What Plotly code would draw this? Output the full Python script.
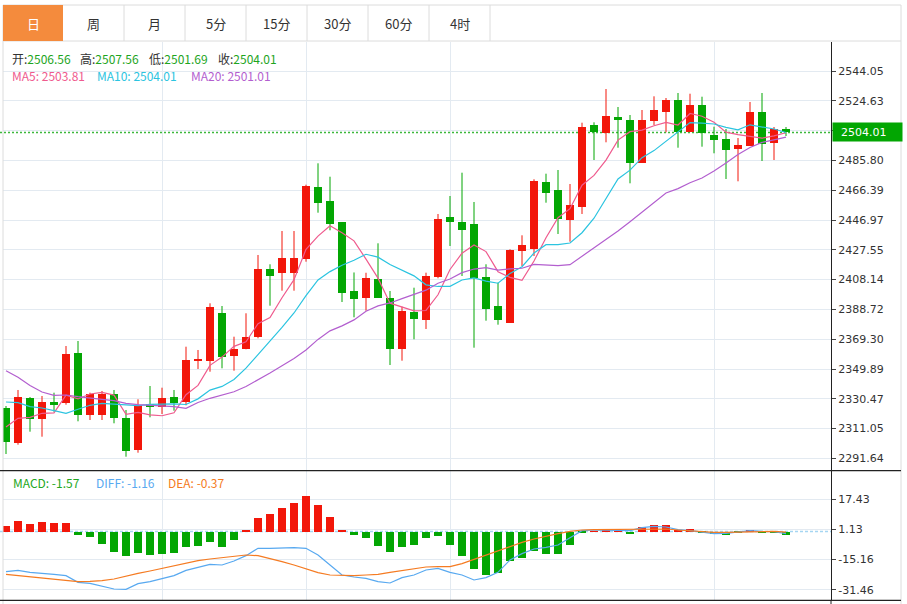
import plotly.graph_objects as go

W, H = 907, 604

tabs = ["日", "周", "月", "5分", "15分", "30分", "60分", "4时"]

opens = [2324.30, 2301.89, 2331.02, 2317.53, 2328.60, 2327.95, 2360.14, 2320.13, 2320.13, 2333.62,
         2317.98, 2297.14, 2326.91, 2325.35, 2331.67, 2328.60, 2355.32, 2355.32, 2386.59, 2358.57,
         2362.74, 2370.56, 2415.06, 2412.45, 2412.45, 2421.57, 2468.67, 2459.16, 2445.68, 2400.73,
         2395.97, 2408.54, 2396.17, 2362.74, 2387.24, 2382.03, 2409.85, 2448.93, 2445.87, 2444.37,
         2410.04, 2390.76, 2380.07, 2426.59, 2428.09, 2471.53, 2466.52, 2446.98, 2455.65, 2508.86,
         2503.85, 2514.07, 2512.12, 2484.30, 2511.66, 2517.53, 2525.35, 2504.50, 2521.70, 2502.35,
         2499.74, 2493.03, 2495.18, 2517.33, 2496.94, 2506.56]
highs = [2325.80, 2336.23, 2331.67, 2332.32, 2334.47, 2364.89, 2368.15, 2334.47, 2335.58, 2336.23,
         2323.20, 2330.17, 2338.83, 2337.73, 2336.23, 2364.44, 2362.29, 2392.71, 2390.95, 2370.95,
         2386.20, 2424.18, 2418.12, 2439.81, 2439.81, 2469.97, 2483.91, 2475.18, 2445.68, 2412.80,
         2412.61, 2431.80, 2400.73, 2390.50, 2402.88, 2412.65, 2450.89, 2462.61, 2477.79, 2458.71,
         2418.12, 2406.13, 2427.89, 2437.01, 2473.49, 2477.14, 2479.55, 2470.43, 2510.36, 2510.62,
         2532.32, 2520.59, 2515.38, 2518.64, 2527.56, 2526.45, 2529.71, 2529.25, 2527.30, 2507.76,
         2506.26, 2500.39, 2523.85, 2529.71, 2507.56, 2507.56]
lows = [2294.53, 2300.59, 2309.06, 2305.80, 2322.09, 2326.65, 2315.83, 2316.68, 2316.68, 2314.53,
        2292.77, 2295.38, 2318.44, 2320.59, 2322.74, 2326.26, 2349.91, 2348.15, 2350.36, 2348.80,
        2362.74, 2369.91, 2391.15, 2400.92, 2400.92, 2419.81, 2451.74, 2440.27, 2393.56, 2383.59,
        2387.89, 2396.36, 2352.51, 2355.32, 2369.26, 2375.97, 2409.00, 2430.04, 2410.50, 2363.78,
        2381.37, 2378.77, 2380.07, 2417.01, 2423.53, 2458.25, 2437.86, 2432.84, 2450.89, 2486.06,
        2497.59, 2494.07, 2470.88, 2484.30, 2508.86, 2504.11, 2494.07, 2504.50, 2494.73, 2490.43,
        2473.68, 2472.19, 2495.18, 2485.41, 2486.06, 2501.69]
closes = [2302.15, 2331.86, 2317.53, 2328.60, 2326.65, 2359.49, 2319.74, 2333.62, 2333.62, 2318.18,
          2296.68, 2326.26, 2325.15, 2331.02, 2327.95, 2355.58, 2356.42, 2390.50, 2357.92, 2362.94,
          2370.56, 2415.06, 2410.69, 2422.22, 2422.22, 2468.93, 2458.25, 2444.57, 2399.62, 2395.51,
          2409.39, 2396.36, 2363.13, 2387.69, 2382.48, 2410.50, 2447.44, 2445.68, 2440.66, 2409.39,
          2388.80, 2382.03, 2427.24, 2430.89, 2472.38, 2464.37, 2447.44, 2456.75, 2507.36, 2504.11,
          2514.53, 2512.32, 2484.30, 2512.32, 2518.44, 2525.15, 2504.11, 2521.70, 2503.46, 2499.09,
          2492.77, 2495.83, 2517.14, 2496.68, 2506.45, 2504.01]

ma5 = [2312.12, 2317.79, 2318.44, 2321.05, 2321.36, 2332.83, 2330.40, 2333.62, 2334.62, 2332.93,
       2320.37, 2321.67, 2319.98, 2319.46, 2321.41, 2333.19, 2339.22, 2352.29, 2357.67, 2364.67,
       2367.67, 2379.39, 2383.43, 2396.30, 2408.15, 2427.83, 2436.47, 2443.24, 2438.72, 2433.38,
       2421.47, 2409.09, 2392.80, 2390.42, 2387.81, 2388.03, 2398.25, 2414.76, 2425.35, 2430.73,
       2426.39, 2413.31, 2409.63, 2407.67, 2420.27, 2435.38, 2448.47, 2454.37, 2469.66, 2476.00,
       2486.04, 2499.01, 2504.52, 2505.51, 2508.38, 2510.50, 2508.86, 2516.34, 2514.57, 2510.70,
       2504.22, 2502.57, 2501.66, 2500.30, 2501.78, 2503.81]
ma10 = [2328.41, 2327.95, 2325.35, 2324.50, 2322.74, 2321.05, 2323.65, 2326.26, 2327.56, 2327.14,
        2326.60, 2326.04, 2326.80, 2327.04, 2327.17, 2326.78, 2330.45, 2336.14, 2338.57, 2343.04,
        2350.43, 2359.31, 2367.86, 2376.98, 2386.41, 2397.75, 2407.93, 2413.34, 2417.51, 2420.77,
        2424.65, 2422.78, 2418.02, 2414.57, 2410.60, 2404.75, 2403.67, 2403.78, 2407.89, 2409.27,
        2407.21, 2405.78, 2412.19, 2416.51, 2425.50, 2430.89, 2430.89, 2432.00, 2438.67, 2448.14,
        2460.71, 2473.74, 2479.44, 2487.59, 2492.19, 2498.27, 2503.94, 2510.43, 2510.04, 2509.54,
        2507.36, 2505.72, 2509.00, 2507.44, 2506.24, 2504.01]
ma20 = [2348.80, 2344.50, 2339.16, 2334.92, 2332.78, 2332.97, 2331.86, 2331.21, 2330.17, 2329.25,
        2327.56, 2326.65, 2326.26, 2325.93, 2325.35, 2324.30, 2328.08, 2330.82, 2332.97, 2335.09,
        2338.51, 2342.68, 2347.33, 2352.01, 2356.79, 2362.26, 2369.19, 2374.74, 2378.03, 2381.90,
        2387.54, 2391.04, 2392.94, 2395.78, 2398.50, 2401.25, 2405.80, 2408.56, 2412.69, 2415.02,
        2415.93, 2414.28, 2415.10, 2415.54, 2418.05, 2417.82, 2417.28, 2417.89, 2423.27, 2428.71,
        2433.96, 2439.76, 2445.82, 2452.05, 2458.85, 2464.58, 2467.41, 2471.21, 2474.35, 2478.84,
        2484.04, 2489.72, 2494.22, 2497.51, 2499.21, 2501.01]

macd_hist = [2.97, 5.67, 4.21, 5.13, 4.75, 4.59, -1.51, -2.81, -6.58, -10.90,
             -13.20, -11.40, -12.30, -12.10, -11.40, -8.20, -7.45, -5.50, -7.99, -4.59,
             0.65, 7.45, 9.44, 12.80, 15.50, 19.20, 14.30, 7.83, 0.65, -1.51,
             -3.35, -7.66, -11.10, -8.20, -7.29, -3.51, -2.05, -6.90, -12.80, -20.20,
             -23.50, -22.00, -15.90, -14.10, -10.50, -12.00, -11.80, -6.90, -0.30, 0.20,
             0.80, 0.10, -1.20, 2.80, 3.50, 3.50, 1.20, 1.70, -0.50, -1.30,
             -1.90, -0.40, 0.65, -0.90, -0.30, -1.57]
diff_line = [-21.68, -20.96, -22.04, -22.40, -23.12, -23.83, -27.43, -27.97, -29.59, -31.03,
             -31.21, -28.15, -27.07, -25.63, -23.83, -20.96, -19.52, -17.72, -18.08, -15.92,
             -13.04, -9.08, -9.08, -8.72, -8.72, -9.08, -12.68, -18.08, -23.48, -24.55,
             -25.27, -27.07, -27.79, -24.91, -23.48, -20.78, -19.88, -22.04, -23.48, -26.17,
             -24.91, -22.04, -15.38, -11.96, -9.44, -8.54, -7.29, -3.33, 0.45, 0.81,
             0.81, 0.63, 0.45, 2.07, 2.79, 2.43, 0.99, 0.45, -0.45, -1.17,
             -0.99, -0.09, 0.45, 0.09, -0.09, -1.16]
dea_line = [-23.12, -23.83, -24.55, -25.27, -26.00, -26.71, -27.07, -26.89, -26.53, -25.63,
            -24.02, -22.58, -21.32, -19.88, -18.44, -16.82, -15.74, -14.84, -14.12, -13.40,
            -12.68, -13.04, -14.48, -16.28, -18.08, -20.24, -22.22, -23.48, -23.83, -23.83,
            -23.48, -23.12, -22.04, -20.96, -20.06, -19.16, -18.98, -18.98, -17.36, -15.02,
            -12.68, -10.16, -7.83, -5.85, -4.05, -2.43, -1.17, 0.09, 0.81, 0.99,
            0.99, 0.99, 0.99, 0.99, 1.35, 1.35, 0.81, 0.27, -0.09, -0.45,
            -0.45, -0.27, 0.09, 0.09, 0.09, -0.37]

price_ticks = [2291.64, 2311.05, 2330.47, 2349.89, 2369.30, 2388.72, 2408.14,
               2427.55, 2446.97, 2466.39, 2485.80, 2505.22, 2524.63, 2544.05]
price_tick_text = ["2291.64", "2311.05", "2330.47", "2349.89", "2369.30", "2388.72", "2408.14",
                   "2427.55", "2446.97", "2466.39", "2485.80", "", "2524.63", "2544.05"]
macd_ticks = [17.43, 1.13, -15.16, -31.46]
macd_tick_text = ["17.43", "1.13", "-15.16", "-31.46"]
month_marks = [13, 25, 37, 59]

UP = "#f2170a"
DOWN = "#03a603"
GRID = "#e3eaf1"
C_MA5 = "#ef5b8e"
C_MA10 = "#2bc4e0"
C_MA20 = "#b35fcf"
C_DIFF = "#58a9f0"
C_DEA = "#f57b22"
CJK = "Noto Sans CJK SC"
AX = "DejaVu Sans"


def X(px):
    return px / W


def Y(py):
    return 1 - py / H


idx = list(range(len(closes)))
fig = go.Figure()

# wicks
for color, up in ((UP, True), (DOWN, False)):
    xs, ys = [], []
    for i, (o, h, l, c) in enumerate(zip(opens, highs, lows, closes)):
        if (c >= o) == up:
            xs += [i, i, None]
            ys += [l, h, None]
    fig.add_trace(go.Scatter(x=xs, y=ys, mode="lines", line=dict(color=color, width=1),
                             hoverinfo="skip", showlegend=False))

# bodies
body_base = [min(o, c) for o, c in zip(opens, closes)]
body_h = [max(abs(c - o), 0.5) for o, c in zip(opens, closes)]
body_col = [UP if c >= o else DOWN for o, c in zip(opens, closes)]
fig.add_trace(go.Bar(x=idx, y=body_h, base=body_base, width=0.74,
                     marker=dict(color=body_col, line=dict(width=0)),
                     hoverinfo="skip", showlegend=False))

for vals, col in ((ma5, C_MA5), (ma10, C_MA10), (ma20, C_MA20)):
    fig.add_trace(go.Scatter(x=idx, y=vals, mode="lines", line=dict(color=col, width=1.2),
                             hoverinfo="skip", showlegend=False))

# MACD
hist_col = [UP if v >= 0 else DOWN for v in macd_hist]
fig.add_trace(go.Bar(x=idx, y=macd_hist, width=0.74, xaxis="x2", yaxis="y2",
                     marker=dict(color=hist_col, line=dict(width=0)),
                     hoverinfo="skip", showlegend=False))
fig.add_trace(go.Scatter(x=idx, y=diff_line, mode="lines", xaxis="x2", yaxis="y2",
                         line=dict(color=C_DIFF, width=1.2), hoverinfo="skip", showlegend=False))
fig.add_trace(go.Scatter(x=idx, y=dea_line, mode="lines", xaxis="x2", yaxis="y2",
                         line=dict(color=C_DEA, width=1.2), hoverinfo="skip", showlegend=False))

xcommon = dict(range=[-0.25, 68.75], tickvals=month_marks, showticklabels=False, ticks="",
               showgrid=True, gridcolor=GRID, gridwidth=1, zeroline=False, showline=False,
               fixedrange=True)
ycommon = dict(side="right", showline=True, linecolor="#222", linewidth=1, ticks="outside",
               ticklen=4, tickcolor="#444", showgrid=True, gridcolor=GRID, zeroline=False,
               tickfont=dict(family=AX, size=11, color="#333"), fixedrange=True)

fig.update_layout(
    width=W, height=H, margin=dict(l=0, r=0, t=0, b=0),
    paper_bgcolor="white", plot_bgcolor="white", showlegend=False,
    barmode="overlay", bargap=0,
    xaxis=dict(domain=[X(3), X(831)], anchor="y", **xcommon),
    yaxis=dict(domain=[Y(470.7), Y(42)], anchor="x", range=[2283.65, 2562.94],
               tickvals=price_ticks, ticktext=price_tick_text, **ycommon),
    xaxis2=dict(domain=[X(3), X(831)], anchor="y2", **xcommon),
    yaxis2=dict(domain=[Y(600.3), Y(470.7)], anchor="x2", range=[-37.13, 32.81],
                tickvals=macd_ticks, ticktext=macd_tick_text, **ycommon),
)

shapes = []
BORDER = "#dcdcdc"
# tab bar
shapes.append(dict(type="rect", xref="paper", yref="paper", x0=X(3), x1=X(901), y0=Y(41), y1=Y(5),
                   line=dict(color=BORDER, width=1), fillcolor="white", layer="below"))
shapes.append(dict(type="rect", xref="paper", yref="paper", x0=X(3), x1=X(63), y0=Y(41), y1=Y(5),
                   line=dict(width=0), fillcolor="#f48b3d"))
tab_edges = [63, 124, 185, 246, 307, 368, 429, 490]
for e in tab_edges[1:]:
    shapes.append(dict(type="line", xref="paper", yref="paper", x0=X(e), x1=X(e), y0=Y(41), y1=Y(5),
                       line=dict(color=BORDER, width=1)))
# outer borders
for bx in (3, 901):
    shapes.append(dict(type="line", xref="paper", yref="paper", x0=X(bx), x1=X(bx), y0=Y(604), y1=Y(41),
                       line=dict(color=BORDER, width=1)))
# panel separators
for by in (470.7, 600.3):
    shapes.append(dict(type="line", xref="paper", yref="paper", x0=X(0), x1=X(901), y0=Y(by), y1=Y(by),
                       line=dict(color="#222", width=1.2)))
shapes.append(dict(type="line", xref="paper", yref="paper", x0=X(831), x1=X(831), y0=Y(604), y1=Y(600),
                   line=dict(color="#222", width=1)))
# last price dotted line
shapes.append(dict(type="line", xref="paper", yref="y", x0=X(0), x1=X(831), y0=closes[-1], y1=closes[-1],
                   line=dict(color="#3cb83c", width=1.5, dash="2px,2px"), layer="below"))
# macd zero line
shapes.append(dict(type="line", xref="paper", yref="y2", x0=X(0), x1=X(831), y0=0, y1=0,
                   line=dict(color="#a6d6f2", width=1.5, dash="3px,2px"), layer="below"))
fig.update_layout(shapes=shapes)

ann = []
tab_centers = [(a + b) / 2 for a, b in zip([3] + tab_edges[:-1], tab_edges)]
for i, (t, cx) in enumerate(zip(tabs, tab_centers)):
    ann.append(dict(text=t, x=X(cx), y=Y(24), xref="paper", yref="paper", showarrow=False,
                    xanchor="center", yanchor="middle",
                    font=dict(family=CJK, size=13, color="white" if i == 0 else "#333")))

GREEN_TXT = "#1ea51e"
TXT = 12
info = [("开", opens[-1], 12), ("高", highs[-1], 80), ("低", lows[-1], 149), ("收", closes[-1], 218)]
for lab, v, px in info:
    ann.append(dict(text=f"{lab}:<span style='color:{GREEN_TXT}'>{v:.2f}</span>", x=X(px - 1), y=Y(58),
                    xref="paper", yref="paper", showarrow=False, xanchor="left", yanchor="middle",
                    borderpad=0, font=dict(family=CJK, size=TXT, color="#333")))
mas = [("MA5", ma5[-1], 12, C_MA5), ("MA10", ma10[-1], 97, C_MA10), ("MA20", ma20[-1], 191, C_MA20)]
for lab, v, px, col in mas:
    ann.append(dict(text=f"{lab}: {v:.2f}", x=X(px - 1), y=Y(76), xref="paper", yref="paper",
                    showarrow=False, xanchor="left", yanchor="middle", borderpad=0,
                    font=dict(family=CJK, size=TXT, color=col)))
macd_info = [("MACD", macd_hist[-1], 13, "#22a722"), ("DIFF", diff_line[-1], 96, C_DIFF),
             ("DEA", dea_line[-1], 168, C_DEA)]
for lab, v, px, col in macd_info:
    ann.append(dict(text=f"{lab}: {v:.2f}", x=X(px - 1), y=Y(482), xref="paper", yref="paper",
                    showarrow=False, xanchor="left", yanchor="middle", borderpad=0,
                    font=dict(family=CJK, size=TXT, color=col)))
# last price tag
ann.append(dict(text="\u00a0\u00a0" + f"{closes[-1]:.2f}", x=X(832), xref="paper", y=closes[-1], yref="y",
                showarrow=False, xanchor="left", yanchor="middle", align="left",
                width=67, height=16, borderpad=1, bgcolor="#02a602",
                font=dict(family=AX, size=11, color="white")))
fig.update_layout(annotations=ann)

fig.write_html(
    "out.html",
    config={"displayModeBar": False},
    post_script="document.body.style.margin='0';document.body.style.overflow='hidden';",
)
